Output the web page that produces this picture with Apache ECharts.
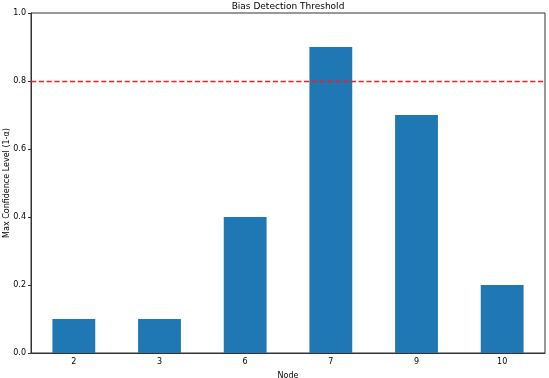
<!DOCTYPE html>
<html>
<head>
<meta charset="utf-8">
<script src="https://cdn.jsdelivr.net/npm/echarts@6/dist/echarts.min.js"></script>
<style>
  html, body { margin: 0; padding: 0; background: #fff; }
  #chart { width: 549px; height: 378px; }
</style>
</head>
<body>
<div id="chart"></div>
<script>
const nodes = ['2', '3', '6', '7', '9', '10']
const confidence = [0.1, 0.1, 0.4, 0.9, 0.7, 0.2]
const threshold = 0.8

const font = 'DejaVu Sans'
const chart = echarts.init(document.getElementById('chart'))

chart.setOption({
  animation: false,
  title: {
    text: 'Bias Detection Threshold',
    left: 288,
    top: 2,
    padding: 0,
    textAlign: 'center',
    textStyle: { fontFamily: font, fontSize: 9, fontWeight: 'normal', color: '#000' }
  },
  grid: {
    left: 31, right: 4, top: 13, bottom: 25,
    containLabel: false,
    outerBoundsMode: 'none',
    show: true,
    borderColor: '#333',
    borderWidth: 1
  },
  xAxis: {
    type: 'category',
    data: nodes,
    name: 'Node',
    nameLocation: 'middle',
    nameGap: 19,
    nameMoveOverlap: false,
    nameTextStyle: { fontFamily: font, fontSize: 8, color: '#000' },
    axisLine: { lineStyle: { color: '#333' } },
    axisTick: { alignWithLabel: true, length: 3, lineStyle: { color: '#333' } },
    axisLabel: { fontFamily: font, fontSize: 8, color: '#000', margin: 5 }
  },
  yAxis: {
    type: 'value',
    min: 0,
    max: 1,
    interval: 0.2,
    name: 'Max Confidence Level (1-α)',
    nameLocation: 'middle',
    nameGap: 20,
    nameMoveOverlap: false,
    nameTextStyle: { fontFamily: font, fontSize: 8, color: '#000' },
    axisLine: { show: true, lineStyle: { color: '#333' } },
    axisTick: { show: true, length: 3, lineStyle: { color: '#333' } },
    axisLabel: {
      fontFamily: font, fontSize: 8, color: '#000', margin: 5,
      formatter: v => v.toFixed(1)
    },
    splitLine: { show: false }
  },
  series: [{
    type: 'bar',
    data: confidence,
    barWidth: '50%',
    itemStyle: { color: '#1f77b4' },
    markLine: {
      silent: true,
      symbol: 'none',
      label: { show: false },
      itemStyle: { color: '#e8221c' },
      lineStyle: { color: '#e8221c', type: 'dashed', width: 1.3 },
      data: [{ yAxis: threshold }]
    }
  }]
})
</script>
</body>
</html>
